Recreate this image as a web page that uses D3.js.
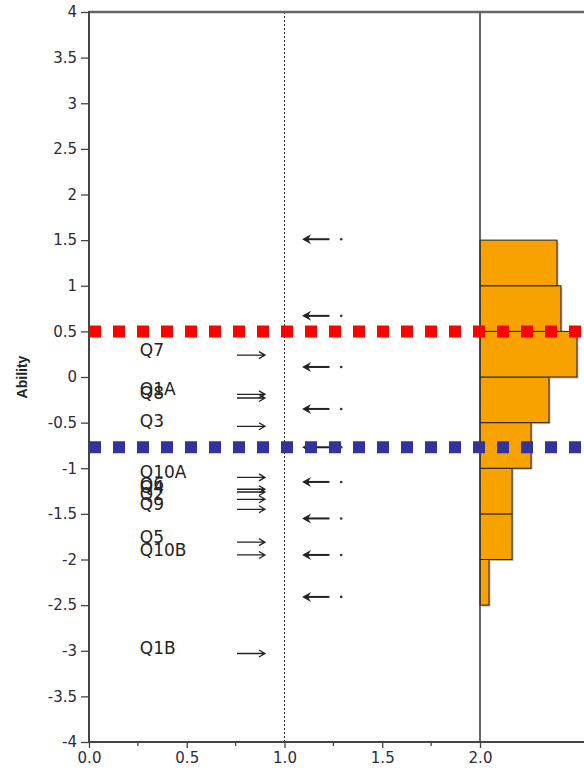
<!DOCTYPE html>
<html>
<head>
<meta charset="utf-8">
<script src="https://cdn.jsdelivr.net/npm/d3@7"></script>
<style>
body { margin: 0; background: #fff; }
svg { display: block; }
</style>
</head>
<body>
<svg></svg>
<script>
// item thresholds (right arrows)
var itemNames = ["Q7", "Q1A", "Q8", "Q3", "Q10A", "Q6", "Q4", "Q2", "Q9", "Q5", "Q10B", "Q1B"];
var itemLocs = [0.24, -0.19, -0.23, -0.54, -1.10, -1.23, -1.26, -1.34, -1.45, -1.81, -1.95, -3.03];

// person locations (left arrows)
var personLocs = [1.51, 0.67, 0.11, -0.35, -0.77, -1.15, -1.55, -1.95, -2.41];

// histogram of ability, bin lower edges and bar length (x units past 2.0)
var binLow = [-2.5, -2.0, -1.5, -1.0, -0.5, 0, 0.5, 1.0];
var binLen = [0.046, 0.164, 0.164, 0.261, 0.353, 0.496, 0.414, 0.394];
var binWidth = 0.5;

var cutHigh = 0.5, cutLow = -0.77;

var yTicks = d3.range(-4, 4.001, 0.5);
var xMajor = [0, 0.5, 1.0, 1.5, 2.0];
var xMinor = [0.25, 0.75, 1.25, 1.75];

var screen = {width: 584, height: 776};
var margins = {left: 89, top: 12, bottom: 34};

var svg = d3.select("svg")
    .attr("width", screen.width)
    .attr("height", screen.height);

var x = d3.scaleLinear().domain([0, 3]).range([margins.left, margins.left + 3 * 195.5]);
var y = d3.scaleLinear().domain([-4, 4]).range([screen.height - margins.bottom, margins.top]);

// histogram
var g = svg.append("g");
g.selectAll("rect.shadow")
    .data(binLow)
    .enter()
    .append("rect")
    .attr("class", "shadow")
    .attr("x", x(2.0) + 1.5)
    .attr("y", function(d) { return y(d + binWidth) + 1.5; })
    .attr("width", function(d, i) { return x(2.0 + binLen[i]) - x(2.0); })
    .attr("height", function(d) { return y(d) - y(d + binWidth); })
    .attr("fill", "#bbb");
g.selectAll("rect.bar")
    .data(binLow)
    .enter()
    .append("rect")
    .attr("class", "bar")
    .attr("x", x(2.0))
    .attr("y", function(d) { return y(d + binWidth); })
    .attr("width", function(d, i) { return x(2.0 + binLen[i]) - x(2.0); })
    .attr("height", function(d) { return y(d) - y(d + binWidth); })
    .attr("fill", "#F8A200")
    .attr("stroke", "#222")
    .attr("stroke-width", 1);

// reference lines
svg.append("line")
    .attr("x1", x(1.0)).attr("x2", x(1.0))
    .attr("y1", y(4)).attr("y2", y(-4))
    .attr("stroke", "#222").attr("stroke-width", 1)
    .attr("stroke-dasharray", "2,2");
svg.append("line")
    .attr("x1", x(2.0)).attr("x2", x(2.0))
    .attr("y1", y(4)).attr("y2", y(-4))
    .attr("stroke", "#333").attr("stroke-width", 1.5);

// axes
var yAxis = d3.axisLeft(y)
    .tickValues(yTicks)
    .tickSize(8)
    .tickPadding(4)
    .tickFormat(function(d) { return String(Math.round(d * 10) / 10); });
var yg = svg.append("g")
    .attr("transform", "translate(" + margins.left + ",0)")
    .call(yAxis);
yg.select(".domain").remove();
yg.selectAll("line").attr("stroke", "#444").attr("stroke-width", 1.3);
yg.selectAll("text")
    .attr("font-family", "DejaVu Sans")
    .attr("font-size", "15px")
    .attr("fill", "#2b2b3a");

var xAxis = d3.axisBottom(x)
    .tickValues(xMajor)
    .tickSize(6)
    .tickPadding(4)
    .tickFormat(d3.format(".1f"));
var xg = svg.append("g")
    .attr("transform", "translate(0," + y(-4) + ")")
    .call(xAxis);
xg.select(".domain").remove();
xg.selectAll("line").attr("stroke", "#444").attr("stroke-width", 1.3);
xg.selectAll("text")
    .attr("font-family", "DejaVu Sans")
    .attr("font-size", "15px")
    .attr("fill", "#2b2b3a");

svg.append("g")
    .selectAll("line")
    .data(xMinor)
    .enter()
    .append("line")
    .attr("x1", function(d) { return x(d); })
    .attr("x2", function(d) { return x(d); })
    .attr("y1", y(-4)).attr("y2", y(-4) + 4)
    .attr("stroke", "#444").attr("stroke-width", 1.3);

// frame lines
svg.append("line")
    .attr("x1", x(0)).attr("x2", screen.width)
    .attr("y1", y(4)).attr("y2", y(4))
    .attr("stroke", "#666").attr("stroke-width", 2.5);
svg.append("line")
    .attr("x1", x(0)).attr("x2", screen.width)
    .attr("y1", y(-4)).attr("y2", y(-4))
    .attr("stroke", "#444").attr("stroke-width", 1.8);
svg.append("line")
    .attr("x1", x(0)).attr("x2", x(0))
    .attr("y1", y(4) - 1).attr("y2", y(-4))
    .attr("stroke", "#444").attr("stroke-width", 2);

svg.append("text")
    .attr("transform", "translate(27," + y(0) + ") rotate(-90)")
    .attr("text-anchor", "middle")
    .attr("font-family", "Liberation Sans")
    .attr("font-weight", "bold")
    .attr("font-size", "14px")
    .attr("fill", "#222")
    .text("Ability");

// item labels and right arrows
var items = svg.append("g");
items.selectAll("text")
    .data(itemNames)
    .enter()
    .append("text")
    .attr("x", x(0.26))
    .attr("y", function(d, i) { return y(itemLocs[i]) + 1; })
    .attr("font-family", "DejaVu Sans")
    .attr("font-size", "17px")
    .attr("fill", "#222")
    .text(function(d) { return d; });
items.selectAll("path")
    .data(itemLocs)
    .enter()
    .append("path")
    .attr("d", function(d) {
        var x0 = x(0.757), x1 = x(0.90), yy = y(d);
        return "M" + x0 + "," + yy + "L" + x1 + "," + yy +
            "M" + (x1 - 6) + "," + (yy - 3.5) + "L" + x1 + "," + yy + "L" + (x1 - 6) + "," + (yy + 3.5);
    })
    .attr("fill", "none")
    .attr("stroke", "#222")
    .attr("stroke-width", 1.3);

// person left arrows and dots
var persons = svg.append("g");
persons.selectAll("line")
    .data(personLocs)
    .enter()
    .append("line")
    .attr("x1", x(1.10)).attr("x2", x(1.23))
    .attr("y1", function(d) { return y(d); })
    .attr("y2", function(d) { return y(d); })
    .attr("stroke", "#222")
    .attr("stroke-width", 2);
persons.selectAll("path")
    .data(personLocs)
    .enter()
    .append("path")
    .attr("d", function(d) {
        var hx = x(1.09), yy = y(d);
        return "M" + hx + "," + yy + "L" + (hx + 9) + "," + (yy - 5) +
            "L" + (hx + 6) + "," + yy + "L" + (hx + 9) + "," + (yy + 5) + "Z";
    })
    .attr("fill", "#222");
persons.selectAll("circle")
    .data(personLocs)
    .enter()
    .append("circle")
    .attr("cx", x(1.29))
    .attr("cy", function(d) { return y(d); })
    .attr("r", 1.3)
    .attr("fill", "#333");

// cut lines
svg.append("line")
    .attr("x1", x(0)).attr("x2", screen.width)
    .attr("y1", y(cutHigh)).attr("y2", y(cutHigh))
    .attr("stroke", "#FF0000").attr("stroke-width", 12)
    .attr("stroke-dasharray", "12,12");
svg.append("line")
    .attr("x1", x(0)).attr("x2", screen.width)
    .attr("y1", y(cutLow)).attr("y2", y(cutLow))
    .attr("stroke", "#333399").attr("stroke-width", 12)
    .attr("stroke-dasharray", "12,12");
</script>
</body>
</html>
